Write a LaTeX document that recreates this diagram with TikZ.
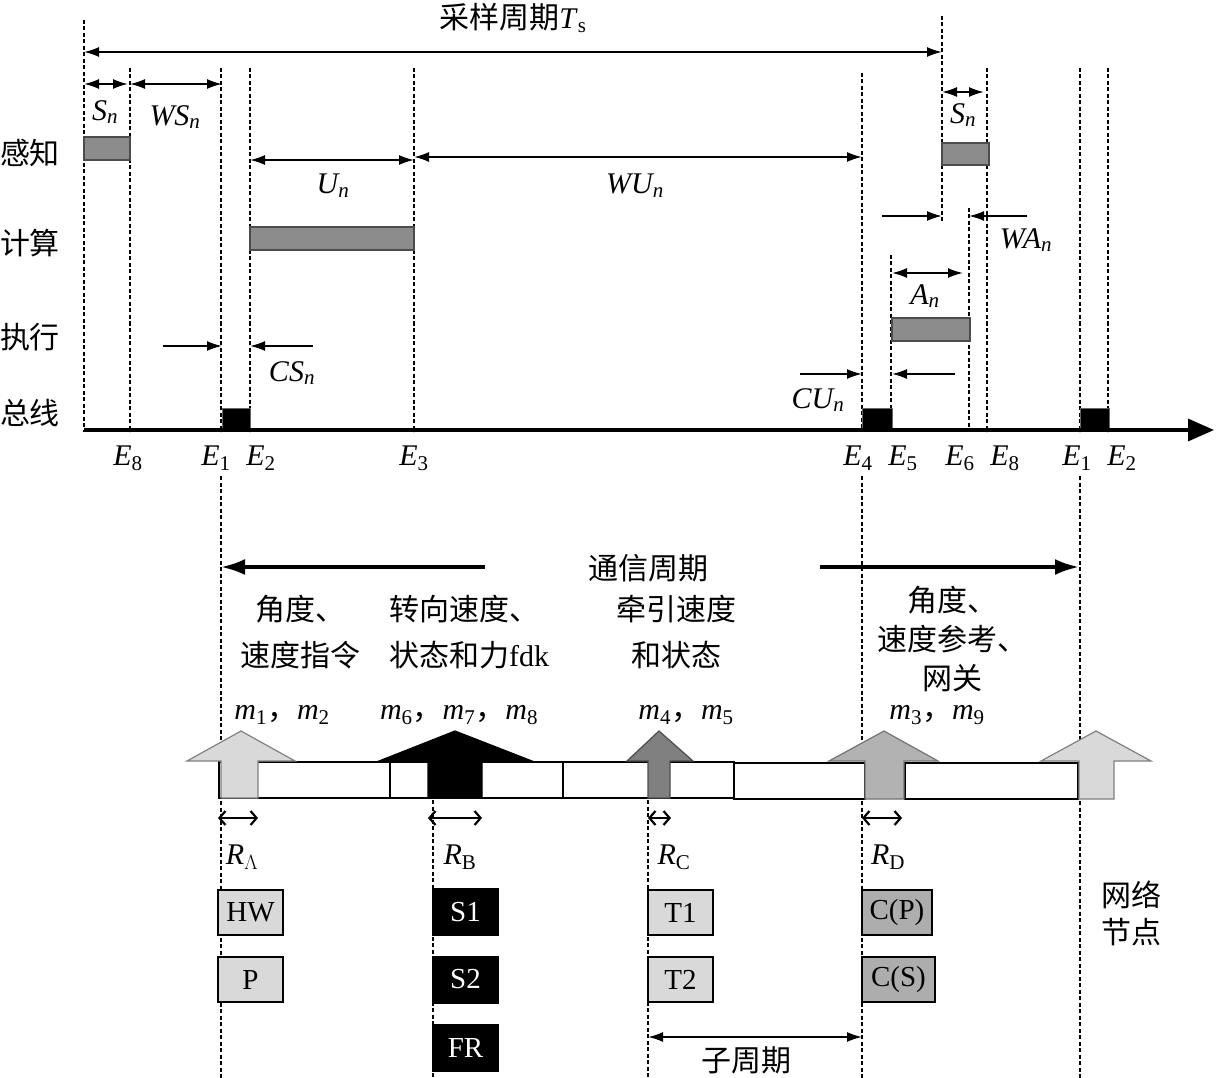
\documentclass[tikz,border=0pt]{standalone}
\usepackage{fontspec}
\setmainfont{Liberation Serif}
\newfontfamily\cjk{Noto Sans CJK SC}
\usetikzlibrary{arrows.meta}
\newcommand\iv[2]{\textit{#1\textsubscript{#2}}}
\newcommand\ev[2]{\textit{#1}\textsubscript{#2}}
\begin{document}
\begin{tikzpicture}[x=1pt,y=-1pt,
  lt/.style={inner sep=0pt, font=\fontsize{30}{34}\selectfont},
  zh/.style={inner sep=0pt, font=\fontsize{30}{46}\selectfont\cjk, align=center},
  dline/.style={line width=2.3pt, dash pattern=on 4pt off 2.5pt},
  dimarr/.style={line width=1.8pt, arrows={Latex[length=15pt,width=10pt]-Latex[length=15pt,width=10pt]}},
  onearr/.style={line width=1.8pt, arrows={-Latex[length=15pt,width=10pt]}},
  bigarr/.style={line width=3.5pt, arrows={-Latex[length=24pt,width=16pt]}},
  rarr/.style={line width=2.2pt, arrows={Straight Barb[length=6pt,width=14pt]-Straight Barb[length=6pt,width=14pt]}},
  bar/.style={fill=black!45, draw=black!70, line width=1.2pt},
  busblk/.style={fill=black, draw=black!60, line width=1pt},
  seg/.style={fill=white, draw=black, line width=2pt},
  nbox/.style={draw=black, line width=2pt, inner sep=0pt, font=\fontsize{29}{34}\selectfont},
]
\useasboundingbox (0,0) rectangle (1216,1078);

% ---------- dashed guide lines ----------
\draw[dline] (84,20) -- (84,432);
\draw[dline] (130,68) -- (130,432);
\draw[dline] (221,68) -- (221,432);
\draw[dline] (221,476) -- (221,1078);
\draw[dline] (250,68) -- (250,432);
\draw[dline] (414,68) -- (414,432);
\draw[dline] (862,73) -- (862,432);
\draw[dline] (862,476) -- (862,1078);
\draw[dline] (942,16) -- (942,222);
\draw[dline] (891,255) -- (891,432);
\draw[dline] (969,208) -- (969,432);
\draw[dline] (987,68) -- (987,432);
\draw[dline] (1080,68) -- (1080,432);
\draw[dline] (1080,476) -- (1080,1078);
\draw[dline] (1108,68) -- (1108,432);
\draw[dline] (433,800) -- (433,1078);
\draw[dline] (648,800) -- (648,1078);

% ---------- bars ----------
\draw[bar] (84,137) rectangle (130,160);
\draw[bar] (250,227) rectangle (414,250);
\draw[bar] (942,143) rectangle (989,165);
\draw[bar] (892,318) rectangle (970,341);
\draw[busblk] (222,408) rectangle (250,430);
\draw[busblk] (862,408) rectangle (892,430);
\draw[busblk] (1080,408) rectangle (1109,430);

% ---------- time axis ----------
\coordinate (ax0) at (84,430);
\coordinate (ax1) at (1214,430);
\draw[line width=3.5pt, arrows={-Triangle[length=26pt,width=22pt]}] (ax0) -- (ax1);

% ---------- dimension arrows ----------
\coordinate (tsL) at (84,52); \coordinate (tsR) at (942,52);
\draw[dimarr] (tsL) -- (tsR);
\coordinate (snL) at (84,84); \coordinate (snR) at (128,84);
\draw[dimarr] (snL) -- (snR);
\coordinate (wsL) at (130,84); \coordinate (wsR) at (222,84);
\draw[dimarr] (wsL) -- (wsR);
\coordinate (unL) at (250,160); \coordinate (unR) at (414,160);
\draw[dimarr] (unL) -- (unR);
\coordinate (wuL) at (414,157); \coordinate (wuR) at (862,157);
\draw[dimarr] (wuL) -- (wuR);
\coordinate (cs1a) at (163,346); \coordinate (cs1b) at (222,346);
\draw[onearr] (cs1a) -- (cs1b);
\coordinate (cs2a) at (313,346); \coordinate (cs2b) at (250,346);
\draw[onearr] (cs2a) -- (cs2b);
\coordinate (cu1a) at (800,374); \coordinate (cu1b) at (862,374);
\draw[onearr] (cu1a) -- (cu1b);
\coordinate (cu2a) at (955,374); \coordinate (cu2b) at (892,374);
\draw[onearr] (cu2a) -- (cu2b);
\coordinate (wa1a) at (882,216); \coordinate (wa1b) at (942,216);
\draw[onearr] (wa1a) -- (wa1b);
\coordinate (wa2a) at (1027,216); \coordinate (wa2b) at (969,216);
\draw[onearr] (wa2a) -- (wa2b);
\coordinate (anL) at (892,273); \coordinate (anR) at (963,273);
\draw[dimarr] (anL) -- (anR);
\coordinate (sn2L) at (942,92); \coordinate (sn2R) at (984,92);
\draw[dimarr] (sn2L) -- (sn2R);

% ---------- top labels ----------
\node[lt] (ts) at (513,18) {{\cjk 采样周期}\textit{T}\textsubscript{s}};
\node[lt] (sn) at (105,112) {\iv{S}{n}};
\node[lt] (wsn) at (175,117) {\iv{WS}{n}};
\node[lt] (un) at (333,186) {\iv{U}{n}};
\node[lt] (wun) at (635,186) {\iv{WU}{n}};
\node[lt] (csn) at (292,373) {\iv{CS}{n}};
\node[lt] (cun) at (818,400) {\iv{CU}{n}};
\node[lt] (wan) at (1026,240) {\iv{WA}{n}};
\node[lt] (an) at (925,296) {\iv{A}{n}};
\node[lt] (sn2) at (963,115) {\iv{S}{n}};

\node[zh] (r1) at (30,153) {感知};
\node[zh] (r2) at (30,243) {计算};
\node[zh] (r3) at (30,337) {执行};
\node[zh] (r4) at (30,413) {总线};

\node[lt] (e8a) at (128,458) {\ev{E}{8}};
\node[lt] (e1a) at (216,458) {\ev{E}{1}};
\node[lt] (e2a) at (261,458) {\ev{E}{2}};
\node[lt] (e3a) at (414,458) {\ev{E}{3}};
\node[lt] (e4a) at (858,458) {\ev{E}{4}};
\node[lt] (e5a) at (903,458) {\ev{E}{5}};
\node[lt] (e6a) at (960,458) {\ev{E}{6}};
\node[lt] (e8b) at (1005,458) {\ev{E}{8}};
\node[lt] (e1b) at (1077,458) {\ev{E}{1}};
\node[lt] (e2b) at (1122,458) {\ev{E}{2}};

% ---------- communication period ----------
\node[zh] (comm) at (648,568) {通信周期};
\coordinate (cpL0) at (485,567); \coordinate (cpL1) at (221,567);
\draw[bigarr] (cpL0) -- (cpL1);
\coordinate (cpR0) at (820,567); \coordinate (cpR1) at (1079,567);
\draw[bigarr] (cpR0) -- (cpR1);

\node[zh] (tA) at (300,632) {角度、\\速度指令};
\node[zh, anchor=west, align=left] (tB) at (389,632) {转向速度、\\状态和力{\normalfont fdk}};
\node[zh] (tC) at (676,632) {牵引速度\\和状态};
\node[zh, font=\fontsize{30}{39}\selectfont\cjk] (tD) at (952,639) {角度、\\速度参考、\\网关};

\node[lt] (mA) at (282,715) {\textit{m}\textsubscript{1}{\cjk ，}\textit{m}\textsubscript{2}};
\node[lt] (mB) at (459,715) {\textit{m}\textsubscript{6}{\cjk ，}\textit{m}\textsubscript{7}{\cjk ，}\textit{m}\textsubscript{8}};
\node[lt] (mC) at (686,715) {\textit{m}\textsubscript{4}{\cjk ，}\textit{m}\textsubscript{5}};
\node[lt] (mD) at (937,715) {\textit{m}\textsubscript{3}{\cjk ，}\textit{m}\textsubscript{9}};

% ---------- message segments ----------
\draw[seg] (219,762) rectangle (390,798);
\draw[seg] (390,762) rectangle (563,798);
\draw[seg] (563,762) rectangle (734,798);
\draw[seg] (734,763) rectangle (865,799);
\draw[seg] (905,763) rectangle (1078,799);

% ---------- block arrows ----------
\filldraw[fill=black!15, draw=black!50, line width=1.2pt]
  (187,761) -- (241,731) -- (295,761) -- (258,761) -- (258,798) -- (221,798) -- (221,761) -- cycle;
\filldraw[fill=black, draw=black, line width=1.2pt]
  (379,761) -- (455,731) -- (532,761) -- (482,761) -- (482,798) -- (428,798) -- (428,761) -- cycle;
\filldraw[fill=black!50, draw=black!70, line width=1.2pt]
  (627,761) -- (659,731) -- (693,761) -- (670,761) -- (670,798) -- (648,798) -- (648,761) -- cycle;
\filldraw[fill=black!30, draw=black!55, line width=1.2pt]
  (829,761) -- (884,731) -- (938,761) -- (904,761) -- (904,799) -- (865,799) -- (865,761) -- cycle;
\filldraw[fill=black!15, draw=black!50, line width=1.2pt]
  (1041,761) -- (1096,731) -- (1151,761) -- (1114,761) -- (1114,799) -- (1079,799) -- (1079,761) -- cycle;

% ---------- R arrows ----------
\coordinate (raL) at (218,818); \coordinate (raR) at (258,818);
\draw[rarr] (raL) -- (raR);
\coordinate (rbL) at (428,818); \coordinate (rbR) at (482,818);
\draw[rarr] (rbL) -- (rbR);
\coordinate (rcL) at (648,818); \coordinate (rcR) at (671,818);
\draw[rarr] (rcL) -- (rcR);
\coordinate (rdL) at (862,818); \coordinate (rdR) at (902,818);
\draw[rarr] (rdL) -- (rdR);

\node[lt] (RA) at (242,857) {\textit{R}\textsubscript{$\Lambda$}};
\node[lt] (RB) at (460,857) {\textit{R}\textsubscript{B}};
\node[lt] (RC) at (674,857) {\textit{R}\textsubscript{C}};
\node[lt] (RD) at (888,857) {\textit{R}\textsubscript{D}};

% ---------- node boxes ----------
\node[nbox, fill=black!15, minimum width=65pt, minimum height=45pt] (hw) at (250.5,912.5) {HW};
\node[nbox, fill=black!15, minimum width=65pt, minimum height=45pt] (p) at (250.5,979.5) {P};
\node[nbox, fill=black, text=white, minimum width=65pt, minimum height=46pt] (s1) at (465.5,912) {S1};
\node[nbox, fill=black, text=white, minimum width=65pt, minimum height=46pt] (s2) at (465.5,979.5) {S2};
\node[nbox, fill=black, text=white, minimum width=65pt, minimum height=46pt] (fr) at (465.5,1047.5) {FR};
\node[nbox, fill=black!15, minimum width=65pt, minimum height=45pt] (t1) at (680.5,912.5) {T1};
\node[nbox, fill=black!15, minimum width=65pt, minimum height=45pt] (t2) at (680.5,979.5) {T2};
\node[nbox, fill=black!32, minimum width=70pt, minimum height=45pt] (cp) at (897,912.5) {C(P)};
\node[nbox, fill=black!32, minimum width=73pt, minimum height=45pt] (cs) at (898.5,979.5) {C(S)};

\node[zh, font=\fontsize{30}{37}\selectfont\cjk] (net) at (1131,913) {网络\\节点};

% ---------- sub-period ----------
\coordinate (spL) at (648,1037); \coordinate (spR) at (862,1037);
\draw[dimarr] (spL) -- (spR);
\node[zh] (subp) at (746,1060) {子周期};
\end{tikzpicture}
\end{document}
